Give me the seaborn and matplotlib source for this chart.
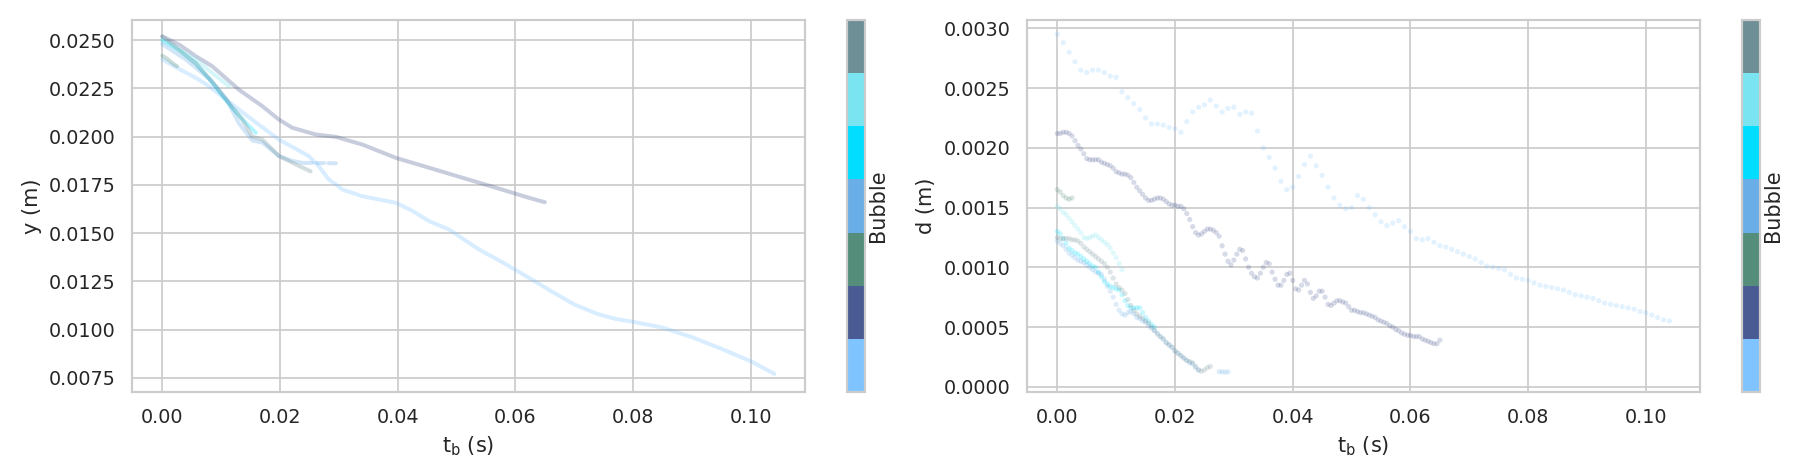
import numpy as np
import pandas as pd
import matplotlib
matplotlib.use("Agg")
import matplotlib.pyplot as plt
from matplotlib.colors import ListedColormap, BoundaryNorm
from matplotlib.cm import ScalarMappable
import seaborn as sns

# ---------------- data ----------------
BUBBLE_COLORS = ["#80c4ff", "#4a5a92", "#548e7b", "#6aaee8", "#00ddff", "#7ae5f0", "#6f8f96"]
BUBBLES = [0, 1, 2, 3, 4, 5, 6]

# left panel: vertical position y (m) vs time (s); None splits a line
Y_T0 = [0, 0.0025, 0.0057, 0.0079, 0.0105, 0.013, 0.0165, 0.0198, 0.0225, 0.0249, 0.0265, 0.0283,
        0.0295, 0.0306, 0.034, 0.0397, 0.0425, 0.0453, 0.0487, 0.0538, 0.058, 0.0623, 0.066, 0.07,
        0.074, 0.077, 0.08, 0.085, 0.09, 0.095, 0.1, 0.104]
Y_V0 = [0.02400, 0.02357, 0.02305, 0.02262, 0.02200, 0.02141, 0.02060, 0.01985, 0.01940, 0.01899,
        0.01850, 0.01778, 0.01752, 0.01726, 0.01691, 0.01657, 0.01615, 0.01562, 0.01519, 0.01415,
        0.01345, 0.01268, 0.01200, 0.01130, 0.01080, 0.01055, 0.01040, 0.01010, 0.00960, 0.00900,
        0.00835, 0.00770]
Y_T1 = [0, 0.003, 0.0057, 0.0085, 0.013, 0.017, 0.0198, 0.0221, 0.0261, 0.0295, 0.034, 0.0397,
        0.0453, 0.051, 0.0567, 0.0623, 0.065]
Y_V1 = [0.0252, 0.02475, 0.02417, 0.02365, 0.02244, 0.02158, 0.02089, 0.02046, 0.02011, 0.01999,
        0.01959, 0.01890, 0.01839, 0.01787, 0.01735, 0.01683, 0.01660]
Y_T2 = [0, 0.001, 0.002, 0.0025]
Y_V2 = [0.0242, 0.0240, 0.02375, 0.02365]
Y_T3 = [0, 0.004, 0.008, 0.011, 0.013, 0.0153, 0.017, 0.0198, 0.022, 0.0238, 0.0255, None,
        0.0262, 0.0275, None, 0.0282, 0.0295]
Y_V3 = [0.0248, 0.0240, 0.0230, 0.0219, 0.0207, 0.0198, 0.0197, 0.0190, 0.01875, 0.01864,
        0.01864, None, 0.01864, 0.01864, None, 0.01863, 0.01862]
Y_T4 = [0, 0.003, 0.0057, 0.0085, 0.0113, 0.0136, 0.0159]
Y_V4 = [0.0250, 0.02445, 0.0238, 0.0228, 0.0217, 0.0209, 0.0202]
Y_T5 = [0, 0.0057, 0.0085, 0.0113]
Y_V5 = [0.02505, 0.0240, 0.0233, 0.02262]
Y_T6 = [0, 0.0057, 0.0091, 0.0113, 0.0136, 0.0153, 0.017, 0.0198, 0.0227, 0.0252]
Y_V6 = [0.0252, 0.0238, 0.02262, 0.02175, 0.02089, 0.0200, 0.01985, 0.0190, 0.01856, 0.0182]

# right panel: diameter d (m), one value per frame
D_STEP = [0.001, 0.0005, 0.0005, 0.0005, 0.0005, 0.0005, 0.0005]
D0 = [0.00295, 0.00288, 0.00280, 0.00272, 0.00265, 0.00263, 0.00265, 0.00265, 0.00263, 0.00260,
      0.00259, 0.00247, 0.00242, 0.00237, 0.00232, 0.00225, 0.00220, 0.00220, 0.00219, 0.00217,
      0.00216, 0.00213, 0.00222, 0.00230, 0.00234, 0.00236, 0.00240, 0.00235, 0.00230, 0.00233,
      0.00234, 0.00228, 0.00230, 0.00229, 0.00214, 0.00200, 0.00192, 0.00183, 0.00172, 0.00165,
      0.00167, 0.00176, 0.00186, 0.00193, 0.00185, 0.00177, 0.00167, 0.00158, 0.00152, 0.00149,
      0.00150, 0.00160, 0.00157, 0.00150, 0.00144, 0.00138, 0.00135, 0.00137, 0.00139, 0.00134,
      0.00130, 0.00124, 0.00123, 0.00124, 0.00121, 0.00118, 0.00117, 0.00115, 0.00113, 0.00111,
      0.00109, 0.00107, 0.00104, 0.00101, 0.00100, 0.00099, 0.00098, 0.00094, 0.00091, 0.00090,
      0.00089, 0.00087, 0.00085, 0.00084, 0.00083, 0.00082, 0.00081, 0.00079, 0.00077, 0.00076,
      0.00075, 0.00074, 0.00072, 0.00070, 0.00069, 0.00068, 0.00067, 0.00066, 0.00065, 0.00063,
      0.00062, 0.00060, 0.00058, 0.00056, 0.00055]
D1 = [0.00212, 0.00212, 0.00213, 0.00213, 0.00212, 0.00210, 0.00206, 0.00202, 0.00199, 0.00195,
      0.00191, 0.00190, 0.00190, 0.00190, 0.00190, 0.00188, 0.00187, 0.00186, 0.00185, 0.00183,
      0.00180, 0.00179, 0.00178, 0.00178, 0.00177, 0.00175, 0.00171, 0.00167, 0.00164, 0.00161,
      0.00158, 0.00156, 0.00156, 0.00157, 0.00158, 0.00158, 0.00157, 0.00155, 0.00153, 0.00152,
      0.00152, 0.00151, 0.00151, 0.00149, 0.00145, 0.00140, 0.00134, 0.00129, 0.00127, 0.00128,
      0.00130, 0.00132, 0.00132, 0.00131, 0.00129, 0.00126, 0.00118, 0.00111, 0.00105, 0.00102,
      0.00106, 0.00111, 0.00115, 0.00114, 0.00107, 0.00100, 0.00095, 0.00092, 0.00091, 0.00095,
      0.00100, 0.00104, 0.00103, 0.00096, 0.00090, 0.00085, 0.00085, 0.00089, 0.00094, 0.00095,
      0.00089, 0.00082, 0.00081, 0.00085, 0.00089, 0.00086, 0.00079, 0.00074, 0.00076, 0.00080,
      0.00080, 0.00075, 0.00069, 0.00068, 0.00070, 0.00072, 0.00072, 0.00071, 0.00070, 0.00067,
      0.00064, 0.00064, 0.00063, 0.00062, 0.00062, 0.00061, 0.00060, 0.00059, 0.00058, 0.00056,
      0.00055, 0.00054, 0.00053, 0.00051, 0.00050, 0.00048, 0.00047, 0.00045, 0.00044, 0.00043,
      0.00043, 0.00042, 0.00042, 0.00042, 0.00040, 0.00039, 0.00038, 0.00037, 0.00036, 0.00036,
      0.00039]
D2 = [0.00165, 0.00163, 0.00160, 0.00158, 0.00157, 0.00158]
D3 = [0.00122, 0.00120, 0.00118, 0.00115, 0.00112, 0.00110, 0.00108, 0.00106, 0.00105, 0.00104,
      0.00102, 0.00100, 0.00098, 0.00096, 0.00095, 0.00094, 0.00090, 0.00084, 0.00080, 0.00075,
      0.00069, 0.00064, 0.00061, 0.00060, 0.00062, 0.00063, 0.00061, 0.00058, 0.00057, 0.00055,
      0.00054, 0.00051, 0.00049, 0.00047, 0.00045, 0.00042, 0.00040, 0.00037, 0.00035, 0.00033,
      0.00030, 0.00028, 0.00026, 0.00024, 0.00022, 0.00020, 0.00019, 0.00016, 0.00014, None,
      None, None, None, None, None, 0.000125, 0.000125, 0.000122, 0.000125]
D4 = [0.00130, 0.00128, 0.00124, 0.00120, 0.00116, 0.00114, 0.00112, 0.00111, 0.00109, 0.00107,
      0.00105, 0.00103, 0.00101, 0.00100, 0.00096, 0.00092, 0.00088, 0.00086, 0.00084, 0.00083,
      0.00082, 0.00081, 0.00077, 0.00072, 0.00068, 0.00066, 0.00066, 0.00066, 0.00066, 0.00062,
      0.00058, 0.00055, 0.00052, 0.00050]
D5 = [0.00151, 0.00149, 0.00146, 0.00144, 0.00141, 0.00138, 0.00135, 0.00132, 0.00129, 0.00125,
      0.00124, 0.00125, 0.00126, 0.00127, 0.00125, 0.00123, 0.00121, 0.00119, 0.00116, 0.00112,
      0.00108, 0.00103, 0.00098]
D6 = [0.00125, 0.00124, 0.00124, 0.00124, 0.00124, 0.00123, 0.00123, 0.00122, 0.00120, 0.00117,
      0.00115, 0.00113, 0.00111, 0.00109, 0.00107, 0.00105, 0.00103, 0.00100, 0.00096, 0.00091,
      0.00086, 0.00083, 0.00081, 0.00078, 0.00073, 0.00068, 0.00064, 0.00061, 0.00059, 0.00057,
      0.00055, 0.00053, 0.00050, 0.00047, 0.00044, 0.00042, 0.00040, 0.00037, 0.00035, 0.00033,
      0.00030, 0.00028, 0.00026, 0.00024, 0.00022, 0.00021, 0.00020, 0.00017, 0.00014, 0.00013,
      0.00014, 0.00016, 0.00017]

Y_T = [Y_T0, Y_T1, Y_T2, Y_T3, Y_T4, Y_T5, Y_T6]
Y_V = [Y_V0, Y_V1, Y_V2, Y_V3, Y_V4, Y_V5, Y_V6]
D_V = [D0, D1, D2, D3, D4, D5, D6]

# ---------------- build frames ----------------
rows = []
seg = 0
for b, ts, vs in zip(BUBBLES, Y_T, Y_V):
    for t, v in zip(ts, vs):
        if t is None:
            seg += 1
            continue
        rows.append({"t": t, "y": v, "bubble": b, "seg": seg})
    seg += 1
df_y = pd.DataFrame(rows)

drows = []
for b, step, vs in zip(BUBBLES, D_STEP, D_V):
    for i, v in enumerate(vs):
        if v is None:
            continue
        drows.append({"t": round(i * step, 5), "d": v, "bubble": b})
df_d = pd.DataFrame(drows)

palette = dict(zip(BUBBLES, BUBBLE_COLORS))

# ---------------- figure ----------------
sns.set_theme(style="whitegrid", context="notebook")
plt.rcParams["font.family"] = ["DejaVu Sans"]

W, H, DPI = 1805, 473, 125
fig = plt.figure(figsize=(W / DPI, H / DPI), dpi=DPI)

def box(x0, x1, y0=20, y1=392):
    return [x0 / W, 1 - y1 / H, (x1 - x0) / W, (y1 - y0) / H]

ax1 = fig.add_axes(box(131.7, 805))
cax1 = fig.add_axes(box(847, 865))
ax2 = fig.add_axes(box(1026.7, 1700))
cax2 = fig.add_axes(box(1742, 1760))

sns.lineplot(data=df_y, x="t", y="y", hue="bubble", units="seg", estimator=None,
             palette=palette, alpha=0.3, linewidth=2.3, legend=False, ax=ax1)
sns.scatterplot(data=df_d, x="t", y="d", hue="bubble", palette=palette, s=9,
                alpha=0.22, linewidth=0, legend=False, ax=ax2)

ax1.set_xlim(-0.0052, 0.1092)
ax1.set_ylim(0.00676, 0.02605)
ax2.set_xlim(-0.0052, 0.1092)
ax2.set_ylim(-0.000044, 0.00307)

ax1.set_xlabel(r"$\mathregular{t_b}$ (s)")
ax2.set_xlabel(r"$\mathregular{t_b}$ (s)")
ax1.set_ylabel("y (m)")
ax2.set_ylabel("d (m)")

cmap = ListedColormap(BUBBLE_COLORS)
norm = BoundaryNorm(np.arange(len(BUBBLES) + 1), cmap.N)
for cax in (cax1, cax2):
    cb = fig.colorbar(ScalarMappable(norm=norm, cmap=cmap), cax=cax)
    cb.set_ticks([])
    cb.ax.yaxis.set_ticks([], minor=True)
    cb.ax.tick_params(which="both", length=0)
    cb.set_label("Bubble", labelpad=2)
    cb.outline.set_edgecolor("#cccccc")

fig.savefig("out.png", dpi=DPI)
